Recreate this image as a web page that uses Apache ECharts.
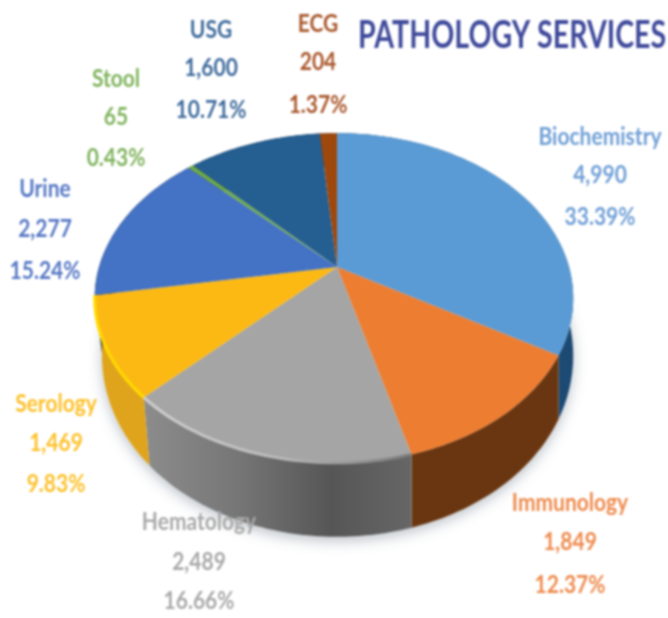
<!DOCTYPE html>
<html>
<head>
<meta charset="utf-8">
<style>
html,body{margin:0;padding:0;background:#fff}
#chart{width:668px;height:618px;filter:blur(0.8px)}
</style>
<script src="https://cdn.jsdelivr.net/npm/echarts@6/dist/echarts.min.js"></script>
</head>
<body>
<div id="chart"></div>
<script>
const categories = ['Biochemistry','Immunology','Hematology','Serology','Urine','Stool','USG','ECG'];
const counts = [4990,1849,2489,1469,2277,65,1600,204];
const chartTitle = 'PATHOLOGY SERVICES';
const topColors = ['#5b9bd5','#ed7d31','#a5a5a5','#fdb913','#4472c4','#70ad47','#255e91','#9e480e'];
const labelColors = ['#6f9fd6','#ee8a4c','#a9a9a9','#fdc028','#5577c4','#7fb35c','#3d6a9c','#a9562a'];
const labelX = [600,570,199,56,45,116,211,318];
const labelY = [[137,175,217],[503,542,585],[522,562,601],[404,443,484],[189,229,271],[79,117,158],[30,68,110],[24,62,105]];

const total = counts.reduce((a,b)=>a+b,0);
const apex = {x:337,y:267};
const proj = {bL:238,bR:232,a:159,k:0.188};
function rimPoint(t,lower){
  const u=Math.sin(t), v=-Math.cos(t), d=1-proj.k*v;
  const px=(u>0?proj.bR:proj.bL)*u/d, py=proj.a*v/d;
  if(!lower) return [apex.x+px, apex.y+py];
  return [apex.x+px*(u>0?1:0.97), apex.y+py+54+20*v];
}
function sliceAngles(i){
  let s=0;
  for(let j=0;j<i;j++) s+=counts[j];
  return [s/total*2*Math.PI,(s+counts[i])/total*2*Math.PI];
}
function arc(t0,t1,lower){
  const n=Math.max(2,Math.ceil((t1-t0)/0.02)), pts=[];
  for(let i=0;i<=n;i++) pts.push(rimPoint(t0+(t1-t0)*i/n,lower));
  return pts;
}
const G = echarts.graphic.LinearGradient;
function wallFill(i){
  if(categories[i]==='Biochemistry') return '#1c4a73';
  if(categories[i]==='Immunology') return '#693611';
  if(categories[i]==='Hematology') return new G(0,0,1,0,[
    {offset:0,color:'#8c8c8c'},{offset:0.35,color:'#767676'},{offset:0.7,color:'#565656'},{offset:1,color:'#666'}]);
  if(categories[i]==='Serology') return '#dfa41c';
  return '#333';
}
function rimStroke(i){
  if(categories[i]==='Hematology') return new G(0,0,1,0,[
    {offset:0,color:'#d0d0d0'},{offset:0.5,color:'#bcbcbc'},{offset:0.7,color:'#a0a0a0'},{offset:1,color:'#7a7a7a'}]);
  if(categories[i]==='Serology') return '#ffdb00';
  return null;
}
const base = {type:'custom',coordinateSystem:'none',silent:true,animation:false,data:counts.map((c,i)=>[c,i])};
const option = {
  animation:false,
  backgroundColor:'#fff',
  graphic:[{type:'text',x:358,y:36,scaleX:0.84,scaleY:1.1,z:10,
    style:{text:chartTitle,align:'left',verticalAlign:'middle',fill:'#3f4a9b',font:'bold 34px Lato'}}],
  series:[
    Object.assign({},base,{name:'shadow',z:1,data:[[total]],renderItem(){
      return {type:'polygon',shape:{points:arc(0,2*Math.PI,true)},
        style:{fill:'#fff',shadowBlur:14,shadowColor:'rgba(60,80,100,0.35)',shadowOffsetY:4}};
    }}),
    Object.assign({},base,{name:'walls',z:2,renderItem(p){
      const [t0,t1]=sliceAngles(p.dataIndex);
      const pts=arc(t0,t1,false).concat(arc(t0,t1,true).reverse());
      return {type:'polygon',shape:{points:pts},style:{fill:wallFill(p.dataIndex)}};
    }}),
    Object.assign({},base,{name:'tops',z:3,renderItem(p){
      const [t0,t1]=sliceAngles(p.dataIndex);
      const pts=[[apex.x,apex.y]].concat(arc(t0,t1,false));
      return {type:'polygon',shape:{points:pts},style:{fill:topColors[p.dataIndex]}};
    }}),
    Object.assign({},base,{name:'rims',z:4,renderItem(p){
      const s=rimStroke(p.dataIndex);
      if(!s) return null;
      const [t0,t1]=sliceAngles(p.dataIndex);
      return {type:'polyline',shape:{points:arc(t0,t1,false)},style:{fill:null,stroke:s,lineWidth:3}};
    }}),
    Object.assign({},base,{name:'labels',z:5,renderItem(p){
      const i=p.dataIndex;
      const lines=[categories[i],counts[i].toLocaleString('en-US'),(counts[i]/total*100).toFixed(2)+'%'];
      return {type:'group',children:lines.map((txt,k)=>({
        type:'text',x:labelX[i],y:labelY[i][k],scaleY:1.15,
        style:{text:txt,align:'center',verticalAlign:'middle',fill:labelColors[i],
          font:'bold 21px Lato'}
      }))};
    }})
  ]
};
echarts.init(document.getElementById('chart'),null,{renderer:'canvas'}).setOption(option);
</script>
</body>
</html>
